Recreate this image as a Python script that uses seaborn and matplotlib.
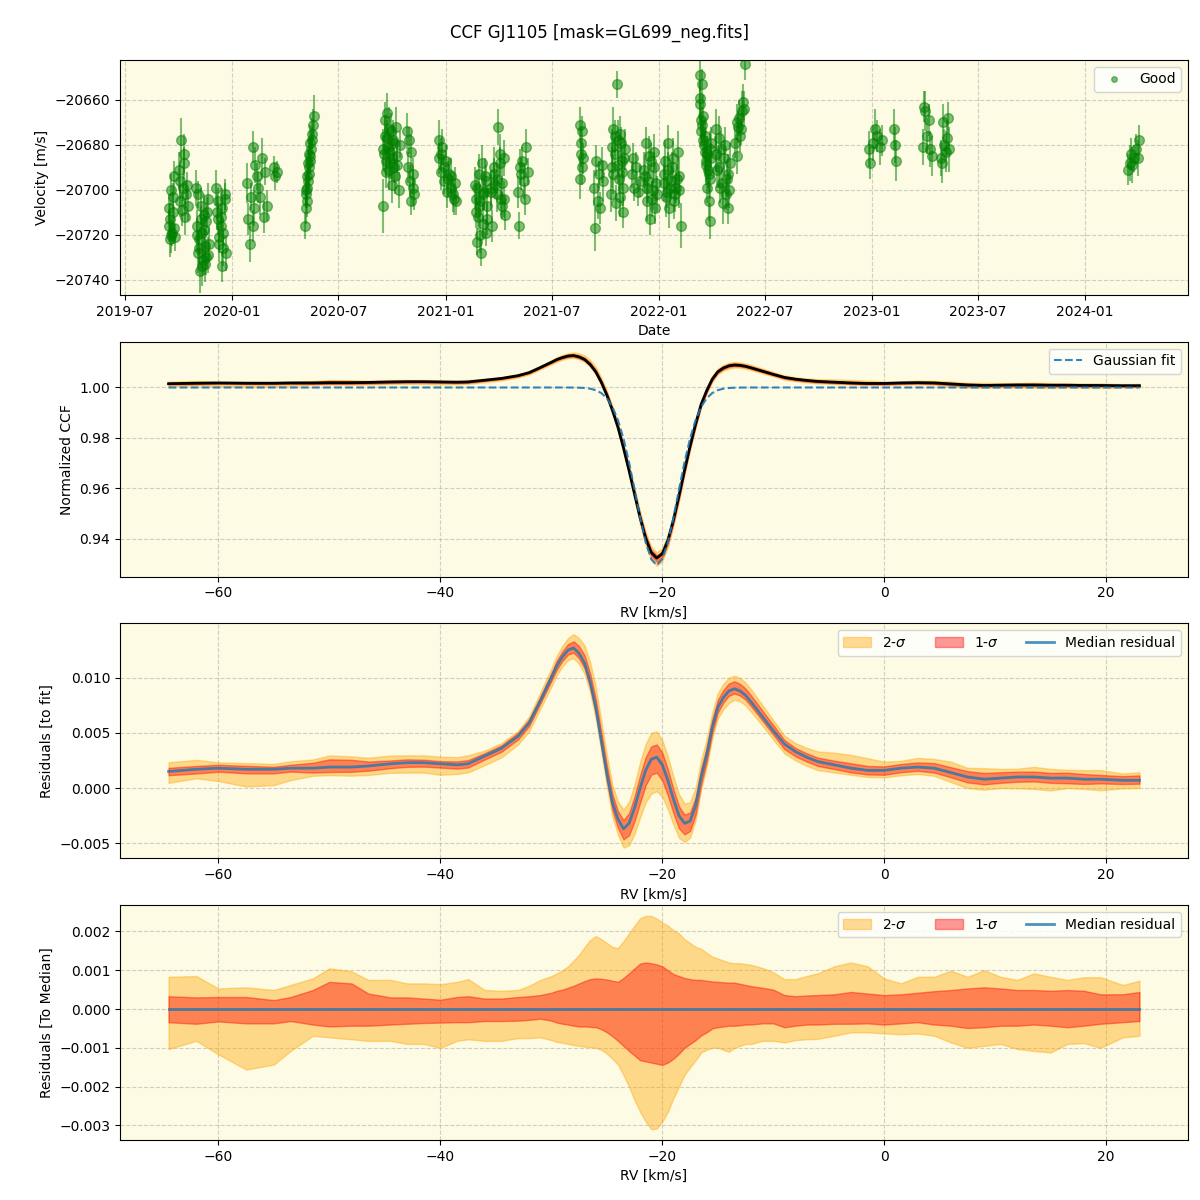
import numpy as np
import pandas as pd
import matplotlib
matplotlib.use('Agg')
import matplotlib.pyplot as plt
import matplotlib.dates as mdates
from matplotlib.lines import Line2D
import seaborn as sns

# --- RV time series: one entry per exposure ---
obs_dates = [
    '2019-09-14', '2019-09-15', '2019-09-17', '2019-09-18', '2019-09-20', '2019-09-21', '2019-09-23', '2019-09-25',
    '2019-10-02', '2019-10-04', '2019-10-06', '2019-10-08', '2019-10-10', '2019-10-12', '2019-10-14', '2019-10-17',
    '2019-10-31', '2019-11-01', '2019-11-03', '2019-11-04', '2019-11-06', '2019-11-07', '2019-11-09', '2019-11-10',
    '2019-11-12', '2019-11-13', '2019-11-15', '2019-11-16', '2019-11-18', '2019-11-20', '2019-11-21',
    '2019-12-05', '2019-12-07', '2019-12-08', '2019-12-10', '2019-12-12', '2019-12-14', '2019-12-15', '2019-12-17',
    '2019-12-19', '2019-12-21',
    '2020-01-26', '2020-01-28', '2020-01-31', '2020-02-02', '2020-02-05', '2020-02-08',
    '2020-02-06', '2020-02-09', '2020-02-12', '2020-02-15', '2020-02-18', '2020-02-21', '2020-02-24', '2020-02-27',
    '2020-03-01',
    '2020-03-12', '2020-03-15', '2020-03-18',
    '2020-05-05', '2020-05-06', '2020-05-07', '2020-05-08', '2020-05-09', '2020-05-10', '2020-05-11', '2020-05-12',
    '2020-05-13', '2020-05-14', '2020-05-15', '2020-05-16', '2020-05-18', '2020-05-20',
    '2020-09-15', '2020-09-17', '2020-09-19', '2020-09-21', '2020-09-22', '2020-09-24', '2020-09-26', '2020-09-28',
    '2020-09-30', '2020-10-02', '2020-10-04', '2020-10-06', '2020-10-08', '2020-10-10', '2020-10-12', '2020-10-14',
    '2020-10-27', '2020-10-28', '2020-10-30', '2020-10-31', '2020-11-02', '2020-11-03', '2020-11-05', '2020-11-06',
    '2020-11-08',
    '2020-12-20', '2020-12-23', '2020-12-26', '2020-12-29', '2021-01-01', '2021-01-04', '2021-01-07', '2021-01-10',
    '2021-01-13', '2021-01-16', '2021-01-18',
    '2021-02-20', '2021-02-22', '2021-02-24', '2021-02-26', '2021-02-28', '2021-03-02', '2021-03-04', '2021-03-06',
    '2021-03-08', '2021-03-10', '2021-03-11', '2021-03-13',
    '2021-03-19', '2021-03-21', '2021-03-24', '2021-03-26', '2021-03-29', '2021-03-31', '2021-04-03', '2021-04-05',
    '2021-04-08', '2021-04-10', '2021-04-12',
    '2021-05-04', '2021-05-06', '2021-05-08', '2021-05-10', '2021-05-12', '2021-05-14', '2021-05-16', '2021-05-18',
    '2021-05-21',
    '2021-08-18', '2021-08-19', '2021-08-20', '2021-08-21', '2021-08-22', '2021-08-23', '2021-08-24',
    '2021-09-12', '2021-09-14', '2021-09-16', '2021-09-18', '2021-09-20', '2021-09-22', '2021-09-25', '2021-09-27',
    '2021-10-11', '2021-10-13', '2021-10-15', '2021-10-17', '2021-10-19', '2021-10-21', '2021-10-23', '2021-10-25',
    '2021-10-27', '2021-10-29', '2021-10-31', '2021-11-01', '2021-11-03',
    '2021-11-15', '2021-11-18', '2021-11-20', '2021-11-23', '2021-11-26', '2021-11-29',
    '2021-12-07', '2021-12-09', '2021-12-11', '2021-12-14', '2021-12-16', '2021-12-18', '2021-12-21', '2021-12-23',
    '2021-12-26', '2021-12-28',
    '2022-01-09', '2022-01-11', '2022-01-14', '2022-01-16', '2022-01-19', '2022-01-21', '2022-01-24', '2022-01-27',
    '2022-01-30', '2022-02-02', '2022-02-05', '2022-02-07',
    '2022-03-12', '2022-03-13', '2022-03-15', '2022-03-16', '2022-03-18', '2022-03-19', '2022-03-21', '2022-03-22',
    '2022-03-24', '2022-03-25', '2022-03-27', '2022-03-28', '2022-03-30', '2022-03-31',
    '2022-04-08', '2022-04-10', '2022-04-13', '2022-04-15', '2022-04-18', '2022-04-20', '2022-04-23', '2022-04-25',
    '2022-04-28', '2022-04-30', '2022-05-02',
    '2022-05-12', '2022-05-14', '2022-05-16', '2022-05-18', '2022-05-20', '2022-05-23', '2022-05-25', '2022-05-28',
    '2022-12-26', '2022-12-29', '2023-01-02', '2023-01-06', '2023-01-10', '2023-01-14', '2023-01-18',
    '2023-02-07', '2023-02-09', '2023-02-11',
    '2023-03-29', '2023-03-31', '2023-04-02', '2023-04-05', '2023-04-08', '2023-04-10', '2023-04-13',
    '2023-04-29', '2023-05-01', '2023-05-03', '2023-05-05', '2023-05-07', '2023-05-09', '2023-05-11', '2023-05-13',
    '2024-03-15', '2024-03-17', '2024-03-19', '2024-03-22', '2024-03-25', '2024-03-28', '2024-03-31', '2024-04-03',
]
obs_vel = [
    -20716, -20708, -20722, -20700, -20719, -20710, -20694, -20721, -20691, -20705, -20678, -20699, -20688, -20712, -20702, -20707,
    -20699, -20716, -20728, -20702, -20722, -20736, -20707, -20719, -20731, -20711, -20725, -20733, -20714, -20704, -20729,
    -20699, -20713, -20705, -20724, -20716, -20734, -20708, -20719, -20702, -20728,
    -20697, -20713, -20724, -20703, -20716, -20708,
    -20681, -20689, -20694, -20699, -20703, -20686, -20712, -20692, -20707,
    -20690, -20694, -20692,
    -20716, -20708, -20702, -20699, -20705, -20696, -20693, -20690, -20687, -20685, -20682, -20678, -20671, -20667,
    -20707, -20684, -20676, -20692, -20666, -20681, -20673, -20688, -20698, -20678, -20690, -20694, -20672, -20685, -20700, -20680,
    -20674, -20690, -20678, -20696, -20683, -20705, -20693, -20699, -20702,
    -20678, -20684, -20681, -20690, -20687, -20695, -20693, -20699, -20702, -20697, -20705,
    -20698, -20710, -20723, -20693, -20705, -20728, -20688, -20715, -20701, -20719, -20696, -20707,
    -20701, -20716, -20690, -20698, -20695, -20672, -20684, -20704, -20707, -20686, -20711,
    -20701, -20716, -20690, -20693, -20687, -20696, -20704, -20681, -20692,
    -20671, -20695, -20679, -20684, -20674, -20690, -20686,
    -20699, -20717, -20687, -20705, -20693, -20708, -20689, -20696,
    -20702, -20690, -20673, -20684, -20706, -20653, -20678, -20695, -20675, -20687, -20699, -20710, -20682,
    -20693, -20686, -20699, -20690, -20701, -20696,
    -20691, -20679, -20705, -20696, -20713, -20687, -20700, -20683, -20708, -20702,
    -20693, -20687, -20701, -20679, -20708, -20696, -20690, -20705, -20699, -20683, -20694, -20716,
    -20649, -20659, -20653, -20671, -20667, -20680, -20676, -20689, -20684, -20699, -20693, -20705, -20714, -20686,
    -20673, -20691, -20677, -20699, -20682, -20706, -20686, -20702, -20695, -20708, -20688,
    -20679, -20685, -20672, -20668, -20676, -20665, -20661, -20644,
    -20682, -20688, -20679, -20673, -20676, -20681, -20678,
    -20673, -20680, -20687,
    -20681, -20663, -20665, -20676, -20669, -20682, -20685,
    -20686, -20688, -20670, -20680, -20683, -20677, -20668, -20682,
    -20691, -20688, -20684, -20689, -20686, -20682, -20686, -20678,
]
obs_err = [
    7, 6, 8, 7, 6, 9, 7, 6, 8, 7, 10, 6, 7, 8, 6, 7,
    8, 7, 9, 6, 7, 10, 8, 6, 7, 9, 7, 8, 6, 7, 8,
    8, 7, 6, 8, 7, 7, 9, 6, 7, 8,
    9, 7, 8, 6, 7, 8,
    7, 8, 6, 7, 8, 9, 7, 6, 7,
    5, 6, 5,
    6, 7, 6, 8, 7, 6, 7, 8, 6, 7, 8, 6, 7, 9,
    12, 8, 9, 7, 9, 8, 10, 7, 8, 9, 7, 8, 9, 7, 8, 6,
    8, 7, 6, 7, 8, 6, 7, 8, 7,
    9, 7, 8, 6, 7, 8, 7, 6, 8, 7, 6,
    8, 7, 6, 9, 7, 6, 8, 7, 8, 6, 7, 8,
    8, 7, 9, 6, 7, 8, 9, 7, 6, 8, 7,
    7, 6, 8, 7, 6, 8, 7, 8, 6,
    8, 9, 7, 6, 7, 8, 7,
    8, 10, 7, 8, 6, 7, 8, 9,
    8, 9, 10, 7, 8, 6, 9, 7, 8, 7, 8, 7, 9,
    6, 7, 6, 7, 6, 7,
    8, 7, 9, 8, 7, 8, 9, 8, 7, 8,
    8, 9, 7, 8, 9, 8, 7, 8, 7, 9, 8, 10,
    7, 8, 7, 8, 9, 7, 8, 9, 8, 7, 8, 9, 8, 7,
    9, 8, 10, 7, 8, 9, 8, 7, 8, 7, 9,
    7, 8, 7, 8, 7, 9, 8, 7,
    8, 7, 8, 9, 7, 8, 7,
    9, 8, 9,
    8, 7, 9, 8, 7, 8, 9,
    8, 9, 8, 7, 9, 8, 7, 10,
    7, 8, 7, 8, 6, 7, 8, 7,
]

# further exposures inside the densest observing runs
more_dates = [
    '2019-09-16', '2019-09-19', '2019-09-22', '2019-09-24', '2019-10-03', '2019-10-07', '2019-10-11', '2019-10-15',
    '2019-11-02', '2019-11-05', '2019-11-08', '2019-11-11', '2019-11-14', '2019-11-17', '2019-11-19', '2019-11-22',
    '2019-12-06', '2019-12-09', '2019-12-13', '2019-12-16', '2019-12-20',
    '2020-05-06', '2020-05-08', '2020-05-10', '2020-05-12', '2020-05-14', '2020-05-16',
    '2020-09-16', '2020-09-18', '2020-09-20', '2020-09-23', '2020-09-25', '2020-09-27', '2020-09-29', '2020-10-01',
    '2020-10-05', '2020-10-09',
    '2020-12-21', '2020-12-24', '2020-12-28', '2021-01-03', '2021-01-09', '2021-01-15',
    '2021-02-21', '2021-02-23', '2021-02-25', '2021-02-27', '2021-03-01', '2021-03-05', '2021-03-09', '2021-03-12',
    '2021-03-20', '2021-03-25', '2021-03-30', '2021-04-04', '2021-04-07', '2021-04-11',
    '2021-10-12', '2021-10-14', '2021-10-18', '2021-10-22', '2021-10-26', '2021-10-28', '2021-10-30', '2021-11-02',
    '2021-12-08', '2021-12-12', '2021-12-15', '2021-12-20', '2021-12-24', '2021-12-27',
    '2022-01-10', '2022-01-13', '2022-01-17', '2022-01-20', '2022-01-25', '2022-01-28', '2022-02-01', '2022-02-04',
    '2022-03-12', '2022-03-14', '2022-03-17', '2022-03-20', '2022-03-23', '2022-03-26', '2022-03-29', '2022-03-30',
    '2022-03-31', '2022-03-14',
    '2022-04-09', '2022-04-14', '2022-04-19', '2022-04-24', '2022-04-29', '2022-05-01',
    '2022-05-15', '2022-05-21', '2022-05-26',
]
more_vel = [
    -20713, -20720, -20703, -20717, -20696, -20709, -20684, -20698,
    -20720, -20726, -20713, -20734, -20718, -20730, -20710, -20724,
    -20710, -20721, -20712, -20726, -20704,
    -20700, -20694, -20688, -20684, -20679, -20675,
    -20682, -20669, -20687, -20677, -20691, -20683, -20674, -20686, -20679, -20689,
    -20686, -20692, -20696, -20701, -20694, -20704,
    -20704, -20699, -20712, -20707, -20720, -20702, -20694, -20713,
    -20699, -20693, -20702, -20688, -20697, -20704,
    -20681, -20693, -20676, -20689, -20703, -20679, -20692, -20686,
    -20694, -20699, -20685, -20704, -20690, -20697,
    -20697, -20703, -20691, -20699, -20686, -20702, -20695, -20700,
    -20662, -20674, -20678, -20683, -20687, -20691, -20695, -20682, -20679, -20669,
    -20684, -20690, -20697, -20680, -20693, -20700,
    -20670, -20673, -20664,
]
more_err = [
    7, 8, 6, 7, 8, 7, 9, 6,
    7, 8, 6, 9, 7, 8, 7, 8,
    8, 7, 6, 8, 7,
    7, 8, 6, 7, 8, 7,
    9, 8, 7, 8, 9, 7, 8, 9, 8, 7,
    7, 8, 6, 7, 8, 7,
    7, 8, 6, 7, 8, 7, 8, 7,
    8, 7, 8, 7, 9, 8,
    8, 9, 7, 8, 9, 7, 8, 9,
    8, 7, 9, 8, 7, 8,
    8, 9, 8, 7, 9, 8, 7, 8,
    8, 7, 8, 9, 7, 8, 9, 8, 7, 8,
    8, 9, 7, 8, 9, 8,
    8, 7, 8,
]

# --- CCF profiles on the RV grid [km/s] ---
rv = [-64.5, -62, -60, -57.5, -55, -53.5, -51.5, -50, -48, -46.5, -44.5, -43, -41.5, -40,
      -38.5, -37.5, -36, -34.5, -33, -32, -31, -30, -29.5, -29, -28.5, -28, -27.5, -27,
      -26.5, -26, -25.5, -25, -24.5, -24, -23.5, -23, -22.5, -22, -21.5, -21, -20.5, -20,
      -19.5, -19, -18.5, -18, -17.5, -17, -16.5, -16, -15.5, -15, -14.5, -14, -13.5, -13,
      -12.5, -12, -11, -10, -9, -8, -7, -6, -4.5, -3, -1.5, 0, 1.5, 3, 4.5, 6, 7.5, 9,
      10.5, 12, 13.5, 15, 16.5, 18, 19.5, 21.5, 23]

gauss_fit = [1.0] * 24 + [
    0.99999, 0.99997, 0.99992, 0.99980, 0.99952, 0.99893, 0.99779, 0.99573, 0.99232, 0.98708,
    0.97973, 0.97033, 0.95948, 0.94837, 0.93862, 0.93190, 0.92950, 0.93190, 0.93862, 0.94837,
    0.95948, 0.97033, 0.97973, 0.98708, 0.99232, 0.99573, 0.99779, 0.99893, 0.99952, 0.99980,
    0.99992, 0.99997, 0.99999] + [1.0] * 26

# median residual to the fit
res_median = [
    0.0015, 0.0017, 0.0018, 0.0017, 0.0017, 0.0018, 0.0018, 0.0019, 0.0019, 0.0020, 0.0022, 0.0023,
    0.0023, 0.0022, 0.0021, 0.0022, 0.0029, 0.0036, 0.0047, 0.0059, 0.0079, 0.0100, 0.0111, 0.0119,
    0.0125, 0.0127, 0.0122, 0.0113, 0.0096, 0.0073, 0.0043, 0.0013, -0.0013, -0.0028, -0.0037, -0.0032,
    -0.0018, 0.0000, 0.0016, 0.0026, 0.0028, 0.0021, 0.0007, -0.0010, -0.0025, -0.0032, -0.0030, -0.0016,
    0.0010, 0.0030, 0.0055, 0.0073, 0.0082, 0.0088, 0.0090, 0.0088, 0.0084, 0.0078, 0.0065, 0.0052,
    0.0040, 0.0033, 0.0028, 0.0024, 0.0021, 0.0018, 0.0016, 0.0016, 0.0018, 0.0019, 0.0018, 0.0014,
    0.0010, 0.0008, 0.0009, 0.0010, 0.0010, 0.0009, 0.0009, 0.0008, 0.0008, 0.0007, 0.0007]

# percentile spread relative to the median (2.5 / 16 / 84 / 97.5 %)
hi2 = [
    0.00083, 0.00085, 0.00053, 0.00056, 0.00049, 0.00062, 0.00079, 0.00105, 0.00097, 0.00075, 0.00075, 0.00066,
    0.00066, 0.00064, 0.00070, 0.00077, 0.00049, 0.00047, 0.00049, 0.00060, 0.00075, 0.00085, 0.00092, 0.00100,
    0.00110, 0.00125, 0.00140, 0.00160, 0.00178, 0.00188, 0.00180, 0.00170, 0.00160, 0.00157, 0.00175, 0.00195,
    0.00215, 0.00234, 0.00240, 0.00240, 0.00233, 0.00223, 0.00215, 0.00203, 0.00195, 0.00180, 0.00170, 0.00160,
    0.00155, 0.00145, 0.00135, 0.00130, 0.00125, 0.00120, 0.00118, 0.00118, 0.00116, 0.00114, 0.00106, 0.00095,
    0.00077, 0.00077, 0.00085, 0.00092, 0.00110, 0.00120, 0.00110, 0.00079, 0.00066, 0.00083, 0.00083, 0.00099,
    0.00083, 0.00100, 0.00083, 0.00075, 0.00092, 0.00083, 0.00075, 0.00082, 0.00082, 0.00062, 0.00073]
hi1 = [
    0.00033, 0.00030, 0.00031, 0.00031, 0.00023, 0.00031, 0.00049, 0.00070, 0.00066, 0.00040, 0.00030, 0.00030,
    0.00027, 0.00024, 0.00031, 0.00033, 0.00027, 0.00027, 0.00031, 0.00033, 0.00036, 0.00042, 0.00047, 0.00050,
    0.00055, 0.00060, 0.00066, 0.00072, 0.00077, 0.00079, 0.00078, 0.00076, 0.00073, 0.00070, 0.00080, 0.00092,
    0.00105, 0.00117, 0.00120, 0.00118, 0.00115, 0.00110, 0.00100, 0.00090, 0.00085, 0.00080, 0.00077, 0.00075,
    0.00075, 0.00073, 0.00071, 0.00070, 0.00069, 0.00068, 0.00068, 0.00065, 0.00062, 0.00059, 0.00055, 0.00050,
    0.00036, 0.00033, 0.00035, 0.00036, 0.00038, 0.00044, 0.00040, 0.00036, 0.00038, 0.00042, 0.00046, 0.00049,
    0.00053, 0.00056, 0.00053, 0.00049, 0.00049, 0.00047, 0.00049, 0.00047, 0.00038, 0.00038, 0.00044]
lo1 = [
    -0.00034, -0.00038, -0.00032, -0.00037, -0.00037, -0.00031, -0.00040, -0.00045, -0.00043, -0.00043, -0.00040, -0.00038,
    -0.00036, -0.00035, -0.00034, -0.00034, -0.00031, -0.00031, -0.00030, -0.00028, -0.00025, -0.00030, -0.00035, -0.00038,
    -0.00040, -0.00043, -0.00045, -0.00045, -0.00046, -0.00047, -0.00052, -0.00060, -0.00070, -0.00082, -0.00095, -0.00108,
    -0.00120, -0.00132, -0.00135, -0.00138, -0.00141, -0.00144, -0.00138, -0.00128, -0.00115, -0.00100, -0.00090, -0.00080,
    -0.00068, -0.00060, -0.00050, -0.00047, -0.00045, -0.00043, -0.00043, -0.00042, -0.00040, -0.00040, -0.00037, -0.00037,
    -0.00047, -0.00043, -0.00040, -0.00040, -0.00038, -0.00038, -0.00037, -0.00040, -0.00037, -0.00034, -0.00040, -0.00043,
    -0.00049, -0.00047, -0.00043, -0.00043, -0.00040, -0.00043, -0.00047, -0.00043, -0.00038, -0.00034, -0.00031]
lo2 = [
    -0.00103, -0.00082, -0.00117, -0.00156, -0.00143, -0.00108, -0.00069, -0.00073, -0.00078, -0.00082, -0.00082, -0.00090,
    -0.00090, -0.00100, -0.00082, -0.00078, -0.00082, -0.00082, -0.00075, -0.00075, -0.00073, -0.00080, -0.00085, -0.00087,
    -0.00090, -0.00093, -0.00095, -0.00097, -0.00098, -0.00100, -0.00105, -0.00115, -0.00128, -0.00143, -0.00170, -0.00200,
    -0.00235, -0.00265, -0.00290, -0.00310, -0.00308, -0.00290, -0.00265, -0.00230, -0.00200, -0.00170, -0.00150, -0.00132,
    -0.00112, -0.00105, -0.00100, -0.00100, -0.00105, -0.00110, -0.00100, -0.00095, -0.00090, -0.00090, -0.00082, -0.00082,
    -0.00086, -0.00080, -0.00078, -0.00077, -0.00069, -0.00060, -0.00060, -0.00063, -0.00065, -0.00063, -0.00069, -0.00086,
    -0.00100, -0.00095, -0.00090, -0.00103, -0.00108, -0.00112, -0.00090, -0.00088, -0.00100, -0.00073, -0.00069]

# ---------------------------------------------------------------------------
ts = pd.DataFrame({'date': pd.to_datetime(obs_dates + more_dates),
                   'vel': obs_vel + more_vel,
                   'err': obs_err + more_err})
prof = pd.DataFrame({'rv': rv, 'fit': gauss_fit, 'res': res_median,
                     'hi2': hi2, 'hi1': hi1, 'lo1': lo1, 'lo2': lo2})
prof['ccf'] = prof['fit'] + prof['res']      # observed median CCF = fit + residual
prof['zero'] = prof['res'] - prof['res']     # median residual relative to itself

BG = '#fdfbe3'
fig, axes = plt.subplots(4, 1, figsize=(12, 12), dpi=100)
fig.subplots_adjust(left=0.1, right=0.99, top=0.95, bottom=0.05, hspace=0.2)
fig.suptitle('CCF GJ1105 [mask=GL699_neg.fits]', fontsize=12)

for ax in axes:
    ax.set_facecolor(BG)
    ax.grid(True, linestyle='--', alpha=0.6)
    ax.set_axisbelow(True)

# --- panel 1: RV time series ---
ax = axes[0]
ax.errorbar(ts['date'], ts['vel'], yerr=ts['err'], fmt='o', color='green', alpha=0.5, ms=7)
ax.set_ylim(-20746.7, -20642.2)
ax.xaxis.set_major_locator(mdates.MonthLocator(bymonth=[1, 7]))
ax.xaxis.set_major_formatter(mdates.DateFormatter('%Y-%m'))
ax.set_xlabel('Date')
ax.set_ylabel('Velocity [m/s]')
good = Line2D([], [], marker='o', ls='none', color='green', alpha=0.5, ms=4, label='Good')
ax.legend(handles=[good], loc='upper right')

# --- panel 2: CCF and Gaussian fit ---
ax = axes[1]
ax.fill_between(prof['rv'], prof['ccf'] + prof['lo2'], prof['ccf'] + prof['hi2'], color='orange', alpha=0.4)
ax.fill_between(prof['rv'], prof['ccf'] + prof['lo1'], prof['ccf'] + prof['hi1'], color='red', alpha=0.4)
sns.lineplot(data=prof, x='rv', y='ccf', color='black', lw=2, ax=ax)
sns.lineplot(data=prof, x='rv', y='fit', color='C0', ls='--', lw=1.5, alpha=0.9, label='Gaussian fit', ax=ax)
ax.set_xlabel('RV [km/s]')
ax.set_ylabel('Normalized CCF')
ax.legend(loc='upper right')

# --- panels 3 and 4: residuals ---
for ax, base, ylab in [(axes[2], 'res', 'Residuals [to fit]'),
                       (axes[3], 'zero', 'Residuals [To Median]')]:
    b2 = ax.fill_between(prof['rv'], prof[base] + prof['lo2'], prof[base] + prof['hi2'],
                         color='orange', alpha=0.4, label=r'2-$\sigma$')
    b1 = ax.fill_between(prof['rv'], prof[base] + prof['lo1'], prof[base] + prof['hi1'],
                         color='red', alpha=0.4, label=r'1-$\sigma$')
    sns.lineplot(data=prof, x='rv', y=base, color='C0', lw=2, alpha=0.8, label='Median residual', ax=ax)
    line = ax.lines[-1]
    ax.set_xlabel('RV [km/s]')
    ax.set_ylabel(ylab)
    ax.legend(handles=[b2, b1, line], loc='upper right', ncol=3)

for ax in axes[1:]:
    ax.set_xlim(axes[1].get_xlim())

fig.savefig('out.png', dpi=100)
